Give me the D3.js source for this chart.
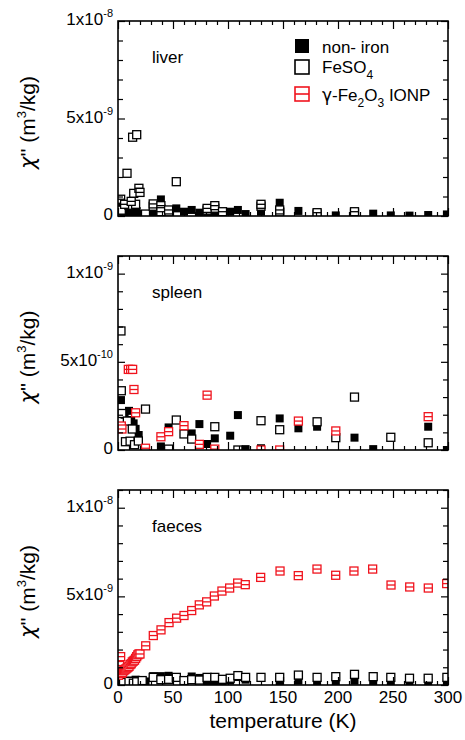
<!DOCTYPE html>
<html>
<head>
<meta charset="utf-8">
<script src="https://cdn.jsdelivr.net/npm/d3@7"></script>
<style>
  body { margin: 0; background: #fff; }
  svg text { font-family: "Liberation Sans", Arial, Helvetica, sans-serif; fill: #000; }
  svg .greek { font-family: "DejaVu Sans", "Noto Sans", sans-serif; }
</style>
</head>
<body>
<svg id="chart" width="465" height="740"></svg>
<script>
// ---- data: imaginary susceptibility χ'' in units of 1e-9 m³/kg vs temperature (K) ----
const panelNames = ["liver", "spleen", "faeces"];
const panelTop = [10, 1.1, 11];               // y-domain maximum of each panel
const panelMinorStep = [1, 0.1, 1];           // spacing of the small y ticks
const yTickValues = [[0, 5, 10], [0, 0.5, 1], [0, 5, 10]];
const yTickLabels = [
  [["0", ""], ["5x10", "-9"], ["1x10", "-8"]],
  [["0", ""], ["5x10", "-10"], ["1x10", "-9"]],
  [["0", ""], ["5x10", "-9"], ["1x10", "-8"]]
];
const xTickValues = [0, 50, 100, 150, 200, 250, 300];
const xTickLabels = ["0", "50", "100", "150", "200", "250", "300"];

const seriesNames = ["non- iron", "FeSO", "-Fe"];

// liver
const liverNonIron = [[1,0.4],[2,0.6],[3,0.25],[4,0.5],[5,0.15],[6,0.35],[7,0.55],[8,0.2],[9,0.4],[10,0.3],
  [11,0.1],[12,0.45],[13,0.3],[14,0.2],[15,0.35],[16,0.15],[17,0.25],[18,0.1],[20,0.05],[25,0.05],
  [32,0.15],[39,0.85],[46,0.1],[53,0.39],[60,0.22],[67,0.31],[74,0.17],[81,0.05],[88,0.13],[95,0.08],
  [102,0.22],[109,0.31],[116,0.1],[130,0.22],[147,0.68],[164,0.26],[181,0.05],[198,0.03],[215,0.08],
  [232,0.12],[248,0.03],[265,0.02],[282,0.05],[299,0.08]];
const liverFeSO4 = [[3,0.3],[8.2,2.19],[10,0.55],[13.3,4.04],[14.3,1.16],[16,0.6],[17,4.17],[25,0.1],
  [32,0.5],[39,0.35],[46,0.2],[53,1.76],[81,0.3],[88,0.4],[130,0.5],[147,0.2],[181,0.1],[215,0.15]];
const liverIONP = [[2.4,0.86],[6,0.6],[12,0.75],[19,1.42],[20,1.21],[32,0.62],[39,0.53],[39,0.22],
  [46,0.31],[81,0.39],[88,0.53],[95,0.22],[130,0.6],[147,0.31],[181,0.17],[215,0.22]];

// spleen
const spleenNonIron = [[2.7,0.283],[6,0.2],[10,0.222],[12,0.17],[14.2,0.151],[16,0.12],[18.8,0.085],
  [39,0.02],[46,0.128],[67,0.094],[74,0.147],[81,0.034],[88,0.066],[102,0.081],[109,0.198],[116,0.005],
  [130,0.01],[147,0.179],[164,0.123],[181,0.132],[215,0.07],[232,0.005],[282,0.132],[299,0.0]];
const spleenFeSO4 = [[2.7,0.675],[3,0.336],[3.5,0.207],[6.8,0.047],[8.5,0.164],[11,0.05],[13,0.119],
  [15,0.03],[18.5,0.051],[25,0.232],[46,0.005],[53,0.17],[60,0.091],[67,0.062],[88,0.132],[109,0.0],
  [130,0.166],[147,0.115],[181,0.16],[198,0.07],[215,0.30],[248,0.072],[282,0.041]];
const spleenIONP = [[3,0.136],[3.6,0.119],[9.4,0.457],[11.5,0.457],[13.3,0.457],[14.5,0.343],[16,0.211],
  [25,0.01],[39,0.075],[46,0.104],[60,0.138],[74,0.032],[81,0.311],[88,0.005],[130,0.0],[147,0.0],
  [164,0.164],[198,0.108],[282,0.189]];

// faeces
const faecesNonIron = [[2,0.1],[4,0.2],[6,0.05],[8,0.15],[10,0.1],[12,0.25],[14,0.15],[16,0.3],[25,0.2],
  [32,0.5],[39,0.5],[46,0.52],[53,0.45],[60,0.2],[67,0.48],[74,0.4],[81,0.15],[88,0.2],[95,0.1],
  [102,0.25],[109,0.45],[116,0.3],[130,0.45],[147,0.15],[164,0.24],[181,0.1],[198,0.12],[215,0.24],
  [232,0.15],[248,0.1],[265,0.12],[282,0.2],[299,0.15]];
const faecesFeSO4 = [[5,0.15],[10,0.2],[14,0.1],[17,0.18],[22,0.25],[32,0.43],[39,0.3],[46,0.32],
  [53,0.43],[60,0.25],[67,0.3],[74,0.28],[81,0.43],[88,0.43],[95,0.32],[102,0.38],[109,0.53],[116,0.43],
  [130,0.43],[147,0.43],[164,0.56],[181,0.43],[198,0.47],[215,0.6],[232,0.47],[248,0.43],[265,0.38],
  [282,0.38],[299,0.43]];
const faecesIONP = [[0.5,0.55],[1.5,1.1],[2.4,1.6],[3,0.65],[4,0.7],[5,0.8],[6,0.85],[7,0.9],[8,0.95],
  [9,1.0],[10,1.05],[11,1.15],[12,1.2],[13,1.3],[14,1.35],[15,1.4],[16,1.5],[17,1.6],[18,1.7],[19,1.75],
  [20,1.75],[25.2,2.21],[32.1,2.79],[39.1,3.11],[46.4,3.52],[53.3,3.77],[60,3.92],[67,4.2],[73.9,4.52],
  [80.6,4.69],[87.6,5.02],[94.5,5.3],[101.5,5.47],[108.8,5.75],[115.7,5.66],[129.7,6.07],[147.3,6.43],
  [163.9,6.17],[180.9,6.54],[197.9,6.19],[214.5,6.43],[231.5,6.54],[248.2,5.64],[265.2,5.53],
  [282.1,5.47],[298.8,5.72]];

const panelSeries = [
  [liverNonIron, liverFeSO4, liverIONP],
  [spleenNonIron, spleenFeSO4, spleenIONP],
  [faecesNonIron, faecesFeSO4, faecesIONP]
];

// ---- layout & style ----
const RED = "#f0141e";
const markerKinds = ["filled", "open", "split"];
const ionpColour = ["#000", RED, RED];        // liver γ-Fe2O3 points are printed in black
const plotLeft = 118, plotRight = 448;
const panelBox = [[21, 216], [256, 450], [490, 685]]; // [top, bottom] in px
const markerSize = 8;

const svg = d3.select("#chart");
const x = d3.scaleLinear().domain([0, 300]).range([plotLeft, plotRight]);

function drawMarker(sel, kind, colour, s, sw) {
  const h = s / 2;
  if (kind === "filled") {
    sel.append("rect").attr("x", -h).attr("y", -h).attr("width", s).attr("height", s)
      .attr("fill", colour);
  } else {
    sel.append("rect").attr("x", -h).attr("y", -h).attr("width", s).attr("height", s)
      .attr("fill", "#fff").attr("stroke", colour).attr("stroke-width", sw);
    if (kind === "split") {
      sel.append("line").attr("x1", -h).attr("x2", h).attr("y1", 0).attr("y2", 0)
        .attr("stroke", colour).attr("stroke-width", sw);
    }
  }
}

panelNames.forEach((name, i) => {
  const [top, bottom] = panelBox[i];
  const y = d3.scaleLinear().domain([0, panelTop[i]]).range([bottom, top]);
  const g = svg.append("g");

  const clipId = "clip" + i;
  svg.append("clipPath").attr("id", clipId).append("rect")
    .attr("x", plotLeft).attr("y", top).attr("width", plotRight - plotLeft).attr("height", bottom - top);

  // data points
  const pts = g.append("g").attr("clip-path", `url(#${clipId})`);
  panelSeries[i].forEach((series, k) => {
    const colour = k === 2 ? ionpColour[i] : "#000";
    pts.append("g").selectAll("g").data(series).join("g")
      .attr("transform", d => `translate(${x(d[0])},${y(d[1])})`)
      .each(function () { drawMarker(d3.select(this), markerKinds[k], colour, markerSize, 1.3); });
  });

  // inward ticks on all four sides
  const minorX = d3.range(0, 301, 10).filter(v => v % 50 !== 0);
  const minorY = d3.range(0, panelTop[i] + 1e-9, panelMinorStep[i])
    .filter(v => !yTickValues[i].some(t => Math.abs(t - v) < 1e-9));
  const tickStyle = a => a.call(s => s.select(".domain").remove())
    .call(s => s.selectAll("line").attr("stroke", "#000").attr("stroke-width", 1.2))
    .call(s => s.selectAll("text").remove());
  const addAxis = (axis, tx, ty) => g.append("g").attr("transform", `translate(${tx},${ty})`).call(axis).call(tickStyle);

  addAxis(d3.axisBottom(x).tickValues(xTickValues).tickSize(-8).tickSizeOuter(0), 0, bottom);
  addAxis(d3.axisBottom(x).tickValues(minorX).tickSize(-4).tickSizeOuter(0), 0, bottom);
  addAxis(d3.axisTop(x).tickValues(xTickValues).tickSize(-8).tickSizeOuter(0), 0, top);
  addAxis(d3.axisTop(x).tickValues(minorX).tickSize(-4).tickSizeOuter(0), 0, top);
  addAxis(d3.axisLeft(y).tickValues(yTickValues[i]).tickSize(-7).tickSizeOuter(0), plotLeft, 0);
  addAxis(d3.axisLeft(y).tickValues(minorY).tickSize(-5).tickSizeOuter(0), plotLeft, 0);
  addAxis(d3.axisRight(y).tickValues(yTickValues[i]).tickSize(-7).tickSizeOuter(0), plotRight, 0);
  addAxis(d3.axisRight(y).tickValues(minorY).tickSize(-5).tickSizeOuter(0), plotRight, 0);

  // frame
  g.append("rect").attr("x", plotLeft).attr("y", top)
    .attr("width", plotRight - plotLeft).attr("height", bottom - top)
    .attr("fill", "none").attr("stroke", "#000").attr("stroke-width", 1.6);

  // y tick labels with exponents
  yTickValues[i].forEach((v, j) => {
    const [base, exp] = yTickLabels[i][j];
    const t = g.append("text").attr("x", 113).attr("y", y(v) + 4)
      .attr("text-anchor", "end").attr("font-size", 17);
    t.append("tspan").text(base);
    if (exp) t.append("tspan").attr("dy", -8).attr("font-size", 11).text(exp);
  });

  // y axis title
  const yt = g.append("text")
    .attr("transform", `translate(35,${(top + bottom) / 2 + 4}) rotate(-90)`)
    .attr("text-anchor", "middle").attr("font-size", 21);
  yt.append("tspan").attr("class", "greek").attr("font-style", "italic").text("χ");
  yt.append("tspan").text("'' (m");
  yt.append("tspan").attr("dy", -9).attr("font-size", 13).text("3");
  yt.append("tspan").attr("dy", 9).text("/kg)");

  // panel label
  g.append("text").attr("x", 152).attr("y", top + 42).attr("font-size", 17).text(name);

  // x tick labels and title on the bottom panel
  if (i === panelNames.length - 1) {
    xTickValues.forEach((v, j) => {
      g.append("text").attr("x", x(v)).attr("y", bottom + 18).attr("text-anchor", "middle")
        .attr("font-size", 17).text(xTickLabels[j]);
    });
    g.append("text").attr("x", (plotLeft + plotRight) / 2).attr("y", 728)
      .attr("text-anchor", "middle").attr("font-size", 21).text("temperature (K)");
  }
});

// ---- legend (liver panel) ----
const legend = svg.append("g");
const legendRows = [
  { kind: "filled", colour: "#000", cy: 46, base: 53 },
  { kind: "open", colour: "#000", cy: 67, base: 73 },
  { kind: "split", colour: RED, cy: 94, base: 101 }
];
legendRows.forEach((r, k) => {
  const m = legend.append("g").attr("transform", `translate(302,${r.cy})`);
  drawMarker(m, r.kind, r.colour, 14, 1.6);
  const t = legend.append("text").attr("x", 322).attr("y", r.base).attr("font-size", 17);
  if (k === 0) t.text(seriesNames[0]);
  if (k === 1) {
    t.append("tspan").text(seriesNames[1]);
    t.append("tspan").attr("dy", 6).attr("font-size", 12).text("4");
  }
  if (k === 2) {
    t.append("tspan").attr("class", "greek").text("γ");
    t.append("tspan").text(seriesNames[2]);
    t.append("tspan").attr("dy", 6).attr("font-size", 12).text("2");
    t.append("tspan").attr("dy", -6).text("O");
    t.append("tspan").attr("dy", 6).attr("font-size", 12).text("3");
    t.append("tspan").attr("dy", -6).text(" IONP");
  }
});
</script>
</body>
</html>
